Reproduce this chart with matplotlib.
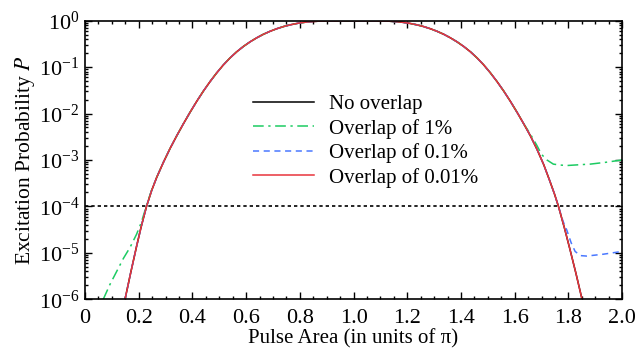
import numpy as np
import matplotlib
matplotlib.use("Agg")
import matplotlib.pyplot as plt
from matplotlib.ticker import MultipleLocator, LogLocator, FuncFormatter

plt.rcParams['font.family'] = ['Liberation Serif', 'DejaVu Serif']
plt.rcParams['mathtext.fontset'] = 'stix'

# pulse area (units of pi) and log10 of excitation probability
x_base = [0.149, 0.170, 0.192, 0.210, 0.229, 0.248, 0.267, 0.292, 0.317, 0.342,
          0.366, 0.391, 0.416, 0.441, 0.466, 0.490, 0.515, 0.540, 0.565, 0.590,
          0.615, 0.640, 0.664, 0.690, 0.714, 0.740, 0.764, 0.795, 0.826, 0.870,
          0.920, 0.970, 1.000, 1.030, 1.080, 1.130, 1.174, 1.205, 1.236, 1.260,
          1.286, 1.310, 1.336, 1.360, 1.385, 1.410, 1.435, 1.460, 1.485, 1.510,
          1.534, 1.559, 1.584, 1.609, 1.634, 1.658, 1.683, 1.708, 1.730, 1.748,
          1.763, 1.785, 1.806, 1.828, 1.850]
logp_base = [-6.000, -5.433, -4.861, -4.420, -4.002, -3.660, -3.375, -3.050, -2.750, -2.475,
             -2.225, -1.975, -1.738, -1.515, -1.310, -1.128, -0.955, -0.803, -0.670, -0.555,
             -0.455, -0.368, -0.294, -0.227, -0.174, -0.126, -0.090, -0.054, -0.029, -0.011,
             -0.005, -0.003, -0.003, -0.003, -0.005, -0.011, -0.029, -0.054, -0.090, -0.126,
             -0.174, -0.227, -0.294, -0.368, -0.455, -0.555, -0.670, -0.803, -0.955, -1.128,
             -1.310, -1.515, -1.738, -1.975, -2.225, -2.475, -2.770, -3.100, -3.440, -3.730,
             -4.000, -4.460, -4.930, -5.440, -5.980]

# 1% overlap: tails that leave the common curve
x_1pct_left = [0.068, 0.093, 0.118, 0.143, 0.168, 0.192, 0.210, 0.229, 0.248]
logp_1pct_left = [-6.00, -5.68, -5.40, -5.12, -4.88, -4.60, -4.34, -3.98, -3.65]
x_1pct_right = [1.634, 1.657, 1.682, 1.700, 1.720, 1.744, 1.770, 1.794, 1.850, 1.881, 1.940, 2.000]
logp_1pct_right = [-2.225, -2.43, -2.68, -2.88, -3.00, -3.09, -3.11, -3.12, -3.10, -3.09, -3.05, -3.00]

# 0.1% overlap: right tail
x_01pct_right = [1.763, 1.780, 1.794, 1.810, 1.825, 1.845, 1.868, 1.930, 2.000]
logp_01pct_right = [-4.00, -4.32, -4.51, -4.78, -4.97, -5.06, -5.07, -5.03, -4.97]

threshold = 1e-4

labels = ['No overlap', 'Overlap of 1%', 'Overlap of 0.1%', 'Overlap of 0.01%']
colors = ['black', '#1ccb62', '#4a78ff', '#e8343c']

xb = np.array(x_base)
pb = 10 ** np.array(logp_base)

# 1% curve = left tail + common part + right tail
m1 = (xb > x_1pct_left[-1]) & (xb < x_1pct_right[0])
x1 = np.concatenate([x_1pct_left, xb[m1], x_1pct_right])
p1 = np.concatenate([10 ** np.array(logp_1pct_left), pb[m1], 10 ** np.array(logp_1pct_right)])

# 0.1% curve = common part + right tail
m2 = xb < x_01pct_right[0]
x2 = np.concatenate([xb[m2], x_01pct_right])
p2 = np.concatenate([pb[m2], 10 ** np.array(logp_01pct_right)])

fig = plt.figure(figsize=(6.44, 3.5), dpi=100)
ax = fig.add_axes([0.132, 0.145, 0.834, 0.796])

ax.axhline(threshold, color='black', lw=1.2, ls=(0, (2.0, 1.8)))
ax.plot(xb, pb, color=colors[0], lw=1.1, label=labels[0])
ax.plot(x1, p1, color=colors[1], lw=1.1, ls=(0, (7, 3, 1.5, 3)), label=labels[1])
ax.plot(x2, p2, color=colors[2], lw=1.1, ls=(0, (4, 3)), label=labels[2])
ax.plot(xb, pb, color=colors[3], lw=1.1, label=labels[3])

ax.set_yscale('log')
ax.set_xlim(0, 2.0)
ax.set_ylim(1e-6, 1e0)

ax.xaxis.set_major_locator(MultipleLocator(0.2))
ax.xaxis.set_minor_locator(MultipleLocator(0.05))
ax.xaxis.set_major_formatter(FuncFormatter(lambda v, pos: '0' if abs(v) < 1e-9 else '%.1f' % v))
ax.yaxis.set_major_locator(LogLocator(base=10, numticks=10))
ax.yaxis.set_minor_locator(LogLocator(base=10, subs=np.arange(2, 10), numticks=10))

ax.tick_params(which='both', direction='in', top=True, right=True, width=1.0)
ax.tick_params(which='major', length=5, labelsize=16)
ax.tick_params(axis='x', which='major', pad=7)
ax.tick_params(axis='y', which='major', pad=4)
ax.tick_params(which='minor', length=2.5)
for s in ax.spines.values():
    s.set_linewidth(1.2)

ax.set_xlabel('Pulse Area (in units of π)', fontsize=15, labelpad=1)
ax.set_ylabel('Excitation Probability $\\mathit{P}$', fontsize=15.5, labelpad=1)

ax.legend(loc='upper left', bbox_to_anchor=(0.313, 0.735), frameon=False, fontsize=15,
          handlelength=2.9, handletextpad=0.72, labelspacing=0.22, borderpad=0, borderaxespad=0)

fig.savefig('out.png', dpi=100)
